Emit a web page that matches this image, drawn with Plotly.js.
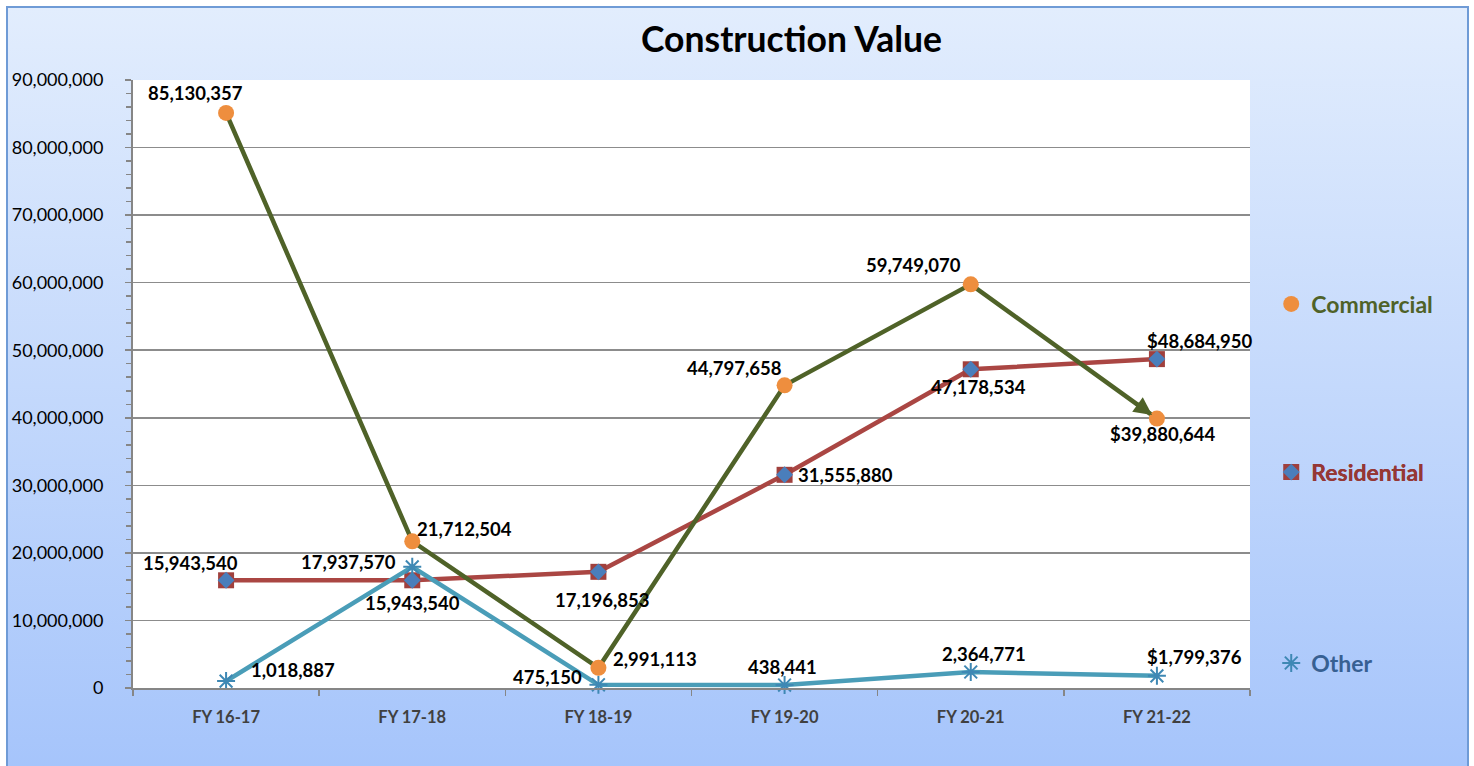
<!DOCTYPE html>
<html>
<head>
<meta charset="utf-8">
<script src="https://cdn.plot.ly/plotly-3.0.1.min.js"></script>
<style>
  html, body { margin: 0; padding: 0; background: #fff; overflow: hidden; }
  #frame {
    position: absolute; left: 6px; top: 6px; width: 1459px; height: 770px;
    border: 2px solid #6F9BD6;
    background: linear-gradient(to bottom, #E2EDFD 0%, #A5C4FB 100%);
  }
  #chart { position: absolute; left: 0; top: 0; width: 1474px; height: 766px; }
</style>
</head>
<body>
<div id="frame"></div>
<div id="chart"></div>
<script>
var years = ["FY 16-17", "FY 17-18", "FY 18-19", "FY 19-20", "FY 20-21", "FY 21-22"];
var commercial = [85130357, 21712504, 2991113, 44797658, 59749070, 39880644];
var residential = [15943540, 15943540, 17196853, 31555880, 47178534, 48684950];
var other = [1018887, 17937570, 475150, 438441, 2364771, 1799376];

// where each value label sits relative to its point (px, right / down)
var commercialShift = [[-31, -20], [52, -12], [57, -9], [-50, -17], [-57, -19], [6, 15]];
var residentialShift = [[-36, -17], [0, 23], [4, 28], [61, 0], [8, 18], [43, -18]];
var otherShift = [[67, -11], [-64, -5], [-51, -8], [-2, -18], [13, -18], [38, -19]];

var font = "Lato, 'Open Sans', sans-serif";

function labelText(v, i) {
  // last year is shown as dollars in the original
  var s = v.toLocaleString("en-US");
  return i === years.length - 1 ? "$" + s : s;
}

function labels(values, shifts) {
  return values.map(function (v, i) {
    return {
      x: years[i], y: v, xref: "x", yref: "y",
      text: labelText(v, i), showarrow: false,
      xshift: shifts[i][0], yshift: -shifts[i][1],
      font: { family: font, size: 18.5, color: "#000", weight: "bold" }
    };
  });
}

// lines are drawn without legend entries, markers carry the legend
function lineTrace(values, color) {
  return {
    x: years, y: values, type: "scatter", mode: "lines",
    line: { color: color, width: 4.5 }, showlegend: false, hoverinfo: "skip"
  };
}

var resSquares = {
  x: years, y: residential, name: "Residential", type: "scatter", mode: "markers",
  marker: { symbol: "square", size: 16, color: "#A0403D" },
  cliponaxis: false, legend: "legend2"
};
var resDiamonds = {
  x: years, y: residential, name: "Residential", type: "scatter", mode: "markers",
  marker: { symbol: "diamond", size: 13, color: "#4A7EBB" },
  cliponaxis: false, legend: "legend4"
};
var otherMarks = {
  x: years, y: other, name: "Other", type: "scatter", mode: "markers",
  marker: { symbol: "asterisk-open", size: 15, color: "#3E88B4", line: { color: "#3E88B4", width: 2 } },
  cliponaxis: false, legend: "legend3"
};
var commMarks = {
  x: years, y: commercial, name: "Commercial", type: "scatter", mode: "markers",
  marker: { symbol: "circle", size: 16, color: "#EE8E3E" },
  cliponaxis: false, legend: "legend"
};

var data = [
  lineTrace(residential, "#AA4643"), resSquares, resDiamonds,
  lineTrace(other, "#4A9DB8"), otherMarks,
  lineTrace(commercial, "#4F6228"), commMarks
];

var arrow = {
  x: years[5], y: commercial[5], xref: "x", yref: "y",
  ax: -22, ay: -16, showarrow: true, arrowhead: 2, arrowsize: 0.9,
  arrowwidth: 4, arrowcolor: "#4F6228", standoff: 6, text: ""
};

function legendBox(y, color) {
  return {
    x: 1.019, y: y, xanchor: "left", yanchor: "middle",
    bgcolor: "rgba(0,0,0,0)", borderwidth: 0,
    font: { family: font, size: 23, color: color, weight: "bold" }
  };
}

var layout = {
  width: 1474, height: 766,
  paper_bgcolor: "rgba(0,0,0,0)",
  plot_bgcolor: "#fff",
  margin: { l: 133, r: 224, t: 80, b: 78 },
  title: {
    text: "Construction Value",
    x: 0.537, xref: "container", xanchor: "center",
    y: 0.948, yref: "container", yanchor: "middle",
    font: { family: font, size: 35.5, color: "#000", weight: "bold" }
  },
  xaxis: {
    type: "category", range: [-0.5, 5.5], tickson: "boundaries",
    ticks: "outside", ticklen: 6, tickcolor: "#868686", tickwidth: 1.5,
    showline: true, linecolor: "#868686", linewidth: 2,
    showgrid: false, ticklabelstandoff: 13,
    tickfont: { family: font, size: 16.5, color: "#404040", weight: "bold" }
  },
  yaxis: {
    range: [0, 90000000], dtick: 10000000, tickformat: ",d",
    ticks: "outside", ticklen: 6, tickcolor: "#868686", tickwidth: 1.5,
    showline: true, linecolor: "#868686", linewidth: 2,
    gridcolor: "#8C8C8C", gridwidth: 1.5, zeroline: false,
    ticklabelstandoff: 18,
    minor: { dtick: 2000000, ticks: "outside", ticklen: 5, tickcolor: "#868686", showgrid: false },
    tickfont: { family: font, size: 18, color: "#000" }
  },
  showlegend: true,
  legend: legendBox(0.6316, "#4F6228"),
  legend2: legendBox(0.355, "#953735"),
  legend3: legendBox(0.041, "#376092"),
  legend4: legendBox(0.355, "#953735"),
  annotations: labels(commercial, commercialShift)
    .concat(labels(residential, residentialShift))
    .concat(labels(other, otherShift))
    .concat([arrow])
};

Plotly.newPlot("chart", data, layout, { displayModeBar: false, staticPlot: true });
</script>
</body>
</html>
